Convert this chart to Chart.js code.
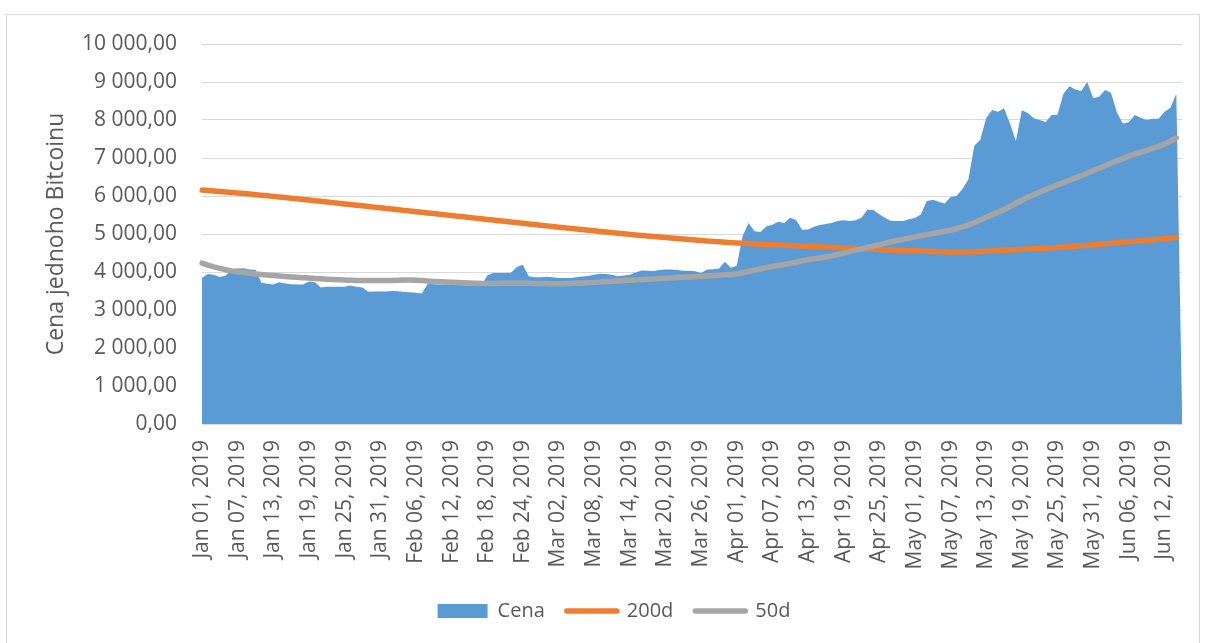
<!DOCTYPE html>
<html>
<head>
<meta charset="utf-8">
<script src="https://cdn.jsdelivr.net/npm/chart.js@4.4.0/dist/chart.umd.min.js"></script>
<style>
  body { margin: 0; background: #fff; }
  #frame { position: absolute; left: 6px; top: 14px; width: 1192px; height: 640px; border: 1px solid #d9d9d9; }
  #wrap { position: absolute; left: 0; top: 0; width: 1206px; height: 643px; }
</style>
</head>
<body>
<div id="frame"></div>
<div id="wrap"><canvas id="btc_chart"></canvas></div>
<script>
// denni maximum ceny, Jan 01 - Jun 15 2019 (posledni den prazdny = 0)
var cena = [
  3850, 3945, 3925, 3870, 3905, 4075, 4095, 4100, 4065, 4060,
  3715, 3690, 3670, 3730, 3700, 3680, 3672, 3672, 3750, 3730,
  3595, 3615, 3615, 3610, 3615, 3645, 3610, 3590, 3480, 3490,
  3490, 3488, 3500, 3495, 3475, 3465, 3455, 3436, 3690, 3675,
  3672, 3668, 3665, 3660, 3650, 3645, 3638, 3630, 3905, 3975,
  3975, 3975, 3980, 4130, 4190, 3890, 3860, 3865, 3875, 3860,
  3840, 3840, 3840, 3860, 3880, 3895, 3925, 3955, 3945, 3930,
  3890, 3910, 3930, 3990, 4040, 4030, 4025, 4055, 4065, 4065,
  4050, 4036, 4030, 4020, 3975, 4063, 4070, 4085, 4270, 4110,
  4165, 4950, 5290, 5070, 5055, 5200, 5245, 5320, 5290, 5425,
  5370, 5110, 5120, 5190, 5235, 5260, 5290, 5340, 5360, 5345,
  5365, 5430, 5640, 5630, 5520, 5420, 5340, 5340, 5340, 5385,
  5420, 5510, 5870, 5900, 5850, 5800, 5975, 6000, 6185, 6435,
  7320, 7480, 8050, 8260, 8220, 8310, 7910, 7450, 8255, 8185,
  8045, 8000, 7950, 8130, 8140, 8690, 8890, 8800, 8760, 9000,
  8580, 8610, 8790, 8720, 8200, 7905, 7940, 8130, 8060, 8000,
  8030, 8035, 8210, 8320, 8690, 0
];

var ma200 = [
  6160, 6147, 6134, 6120, 6106, 6092, 6078, 6064, 6050, 6035,
  6020, 6005, 5990, 5974, 5958, 5942, 5926, 5910, 5894, 5877,
  5860, 5843, 5826, 5809, 5792, 5775, 5758, 5741, 5724, 5707,
  5690, 5673, 5656, 5639, 5622, 5605, 5588, 5571, 5554, 5537,
  5520, 5503, 5486, 5469, 5452, 5435, 5418, 5401, 5384, 5367,
  5350, 5333, 5316, 5299, 5282, 5265, 5248, 5231, 5214, 5197,
  5180, 5164, 5148, 5132, 5116, 5100, 5084, 5068, 5052, 5036,
  5020, 5005, 4990, 4975, 4961, 4947, 4933, 4919, 4905, 4892,
  4879, 4866, 4853, 4841, 4829, 4817, 4806, 4795, 4784, 4773,
  4763, 4755, 4747, 4740, 4733, 4726, 4719, 4712, 4705, 4698,
  4691, 4684, 4677, 4670, 4663, 4656, 4649, 4642, 4635, 4628,
  4621, 4614, 4607, 4600, 4593, 4586, 4579, 4573, 4567, 4561,
  4556, 4551, 4546, 4541, 4536, 4532, 4529, 4527, 4527, 4530,
  4535, 4541, 4548, 4556, 4564, 4572, 4580, 4588, 4596, 4604,
  4612, 4620, 4628, 4636, 4645, 4655, 4666, 4678, 4690, 4702,
  4715, 4728, 4742, 4756, 4769, 4782, 4795, 4808, 4821, 4835,
  4850, 4865, 4880, 4896, 4912, null
];

var ma50 = [
  4233, 4180, 4135, 4095, 4060, 4030, 4005, 3985, 3965, 3948,
  3932, 3918, 3905, 3893, 3880, 3870, 3860, 3850, 3840, 3830,
  3820, 3810, 3802, 3795, 3788, 3782, 3778, 3776, 3775, 3775,
  3775, 3776, 3778, 3782, 3788, 3790, 3785, 3775, 3762, 3752,
  3745, 3738, 3730, 3722, 3715, 3708, 3702, 3698, 3695, 3698,
  3702, 3704, 3706, 3706, 3705, 3703, 3700, 3697, 3694, 3690,
  3688, 3690, 3695, 3702, 3710, 3718, 3727, 3736, 3745, 3755,
  3765, 3774, 3783, 3792, 3801, 3810, 3818, 3827, 3836, 3845,
  3853, 3861, 3869, 3877, 3886, 3895, 3905, 3915, 3926, 3936,
  3945, 3980, 4015, 4050, 4085, 4115, 4143, 4170, 4197, 4224,
  4252, 4295, 4320, 4345, 4370, 4395, 4425, 4460, 4495, 4535,
  4575, 4610, 4648, 4685, 4722, 4760, 4795, 4828, 4860, 4892,
  4922, 4952, 4985, 5015, 5040, 5070, 5105, 5145, 5190, 5240,
  5300, 5365, 5440, 5510, 5575, 5640, 5725, 5810, 5890, 5965,
  6035, 6100, 6165, 6230, 6295, 6355, 6415, 6475, 6535, 6600,
  6665, 6730, 6795, 6860, 6925, 6985, 7045, 7100, 7150, 7200,
  7252, 7306, 7365, 7440, 7530, null
];

var tickLabels = [
  "Jan 01, 2019", "Jan 07, 2019", "Jan 13, 2019", "Jan 19, 2019", "Jan 25, 2019", "Jan 31, 2019",
  "Feb 06, 2019", "Feb 12, 2019", "Feb 18, 2019", "Feb 24, 2019",
  "Mar 02, 2019", "Mar 08, 2019", "Mar 14, 2019", "Mar 20, 2019", "Mar 26, 2019",
  "Apr 01, 2019", "Apr 07, 2019", "Apr 13, 2019", "Apr 19, 2019", "Apr 25, 2019",
  "May 01, 2019", "May 07, 2019", "May 13, 2019", "May 19, 2019", "May 25, 2019", "May 31, 2019",
  "Jun 06, 2019", "Jun 12, 2019"
];

// kategorie: kazdy den od 1.1.2019
var monthNames = ["Jan", "Feb", "Mar", "Apr", "May", "Jun", "Jul", "Aug", "Sep", "Oct", "Nov", "Dec"];
var dates = [];
for (var i = 0; i < cena.length; i++) {
  var d = new Date(Date.UTC(2019, 0, 1 + i));
  dates.push(monthNames[d.getUTCMonth()] + " " + String(d.getUTCDate()).padStart(2, "0") + ", 2019");
}

function czNumber(v) {
  return String(Math.round(v)).replace(/\B(?=(\d{3})+(?!\d))/g, " ") + ",00";
}

Chart.defaults.font.family = "'Open Sans', sans-serif";
Chart.defaults.color = "#595959";

var ctx = document.getElementById("btc_chart").getContext("2d");
var btc_chart = new Chart(ctx, {
  type: "line",
  data: {
    labels: dates,
    datasets: [
      {
        label: "Cena",
        data: cena,
        fill: "origin",
        backgroundColor: "#5b9bd5",
        borderColor: "#5b9bd5",
        borderWidth: 0,
        pointRadius: 0,
        pointStyle: "rect",
        order: 3,
      },
      {
        label: "200d",
        data: ma200,
        fill: false,
        borderColor: "#ed7d31",
        backgroundColor: "#ed7d31",
        borderWidth: 5.5,
        borderCapStyle: "round",
        borderJoinStyle: "round",
        pointRadius: 0,
        pointBorderWidth: 5.5,
        pointStyle: "line",
        order: 2,
      },
      {
        label: "50d",
        data: ma50,
        fill: false,
        borderColor: "#a5a5a5",
        backgroundColor: "#a5a5a5",
        borderWidth: 5.5,
        borderCapStyle: "round",
        borderJoinStyle: "round",
        pointRadius: 0,
        pointBorderWidth: 5.5,
        pointStyle: "line",
        order: 1,
      },
    ],
  },
  options: {
    responsive: true,
    maintainAspectRatio: false,
    animation: false,
    layout: { padding: { top: 44, right: 20, bottom: 12, left: 42 } },
    scales: {
      x: {
        grid: { display: false, drawTicks: false },
        border: { color: "#d9d9d9" },
        ticks: {
          autoSkip: false,
          maxRotation: 90,
          minRotation: 90,
          padding: 16,
          font: { size: 21 },
          callback: function (v, i) {
            return tickLabels.indexOf(dates[i]) >= 0 ? dates[i] : null;
          },
        },
        afterFit: function (scale) {
          scale.height = 155;
        },
      },
      y: {
        min: 0,
        max: 10000,
        grid: { color: "#d9d9d9", drawTicks: false },
        border: { display: false },
        ticks: {
          stepSize: 1000,
          padding: 25,
          font: { size: 21 },
          callback: czNumber,
        },
        title: {
          display: true,
          text: "Cena jednoho Bitcoinu",
          font: { size: 23 },
          padding: { top: 1, bottom: 0 },
        },
        afterFit: function (scale) {
          scale.width = 160;
        },
      },
    },
    plugins: {
      tooltip: { enabled: false },
      legend: {
        position: "bottom",
        labels: {
          usePointStyle: true,
          pointStyleWidth: 50,
          boxHeight: 14,
          padding: 22,
          font: { size: 20 },
          sort: function (a, b) {
            return a.datasetIndex - b.datasetIndex;
          },
          generateLabels: function (chart) {
            var items = Chart.defaults.plugins.legend.labels.generateLabels(chart);
            items.forEach(function (it) {
              if (it.pointStyle === "line") it.lineCap = "round";
            });
            return items;
          },
        },
      },
    },
  },
});
</script>
</body>
</html>
